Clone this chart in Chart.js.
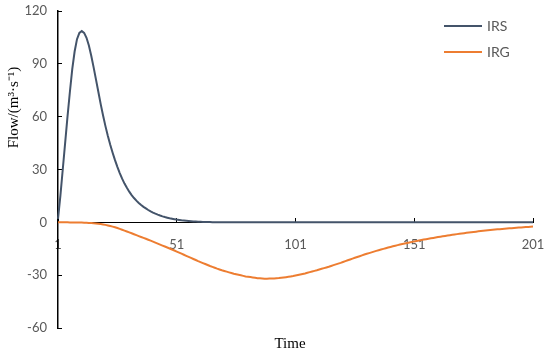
<!DOCTYPE html>
<html><head><meta charset="utf-8">
<script src="https://cdn.jsdelivr.net/npm/chart.js@4"></script>
<style>html,body{margin:0;padding:0;background:#fff}#wrap{width:550px;height:354px;position:relative}</style>
</head><body><div id="wrap"><canvas id="c"></canvas></div>
<script>
// ---- data ----
const categories = Array.from({length: 201}, (_, i) => String(i + 1));
const xTickLabels = ['1', '51', '101', '151', '201'];
const seriesNames = ['IRS', 'IRG'];
const xTitle = 'Time';
const yTitle = 'Flow/(m\u00B3\u00B7s\u207B\u00B9)';

const irs = [
  2,15,30,45,60,74,87,97,104,107.6,
  108.6,107.6,104.8,100.4,94.6,88,81,74,67,60.5,
  54.5,49,44,39.5,35.3,31.5,28,24.8,22,19.6,
  17.4,15.5,13.8,12.3,11,9.8,8.8,7.9,7,6.2,
  5.5,4.9,4.35,3.85,3.4,3,2.65,2.33,2.05,1.8,
  1.55,1.35,1.15,1,0.85,0.72,0.61,0.51,0.43,0.36,
  0.3,0.25,0.2,0.16,0.13,0.1,0.08,0.06,0.05,0.04,
  0.03,0.02,0.02,0.01,0.01,
  0,0,0,0,0,0,0,0,0,0,0,0,0,0,0,0,0,0,0,0,0,
  0,0,0,0,0,0,0,0,0,0,0,0,0,0,0,0,0,0,0,0,0,
  0,0,0,0,0,0,0,0,0,0,0,0,0,0,0,0,0,0,0,0,0,
  0,0,0,0,0,0,0,0,0,0,0,0,0,0,0,0,0,0,0,0,0,
  0,0,0,0,0,0,0,0,0,0,0,0,0,0,0,0,0,0,0,0,0,
  0,0,0,0,0,0,0,0,0,0,0,0,0,0,0,0,0,0,0,0,0
];

const irg = [
  0,0,0,-0.01,-0.02,-0.03,-0.05,-0.06,-0.08,-0.1,
  -0.14,-0.19,-0.25,-0.32,-0.4,-0.52,-0.66,-0.82,-1,-1.2,
  -1.45,-1.75,-2.08,-2.43,-2.8,-3.25,-3.72,-4.2,-4.7,-5.2,
  -5.7,-6.2,-6.75,-7.28,-7.8,-8.3,-8.82,-9.35,-9.88,-10.4,
  -10.95,-11.5,-12.05,-12.62,-13.2,-13.75,-14.3,-14.85,-15.42,-16,
  -16.6,-17.2,-17.8,-18.4,-19,-19.6,-20.2,-20.8,-21.4,-22,
  -22.56,-23.12,-23.68,-24.24,-24.8,-25.3,-25.8,-26.3,-26.75,-27.2,
  -27.6,-28,-28.4,-28.8,-29.2,-29.5,-29.8,-30.1,-30.4,-30.7,
  -30.9,-31.1,-31.3,-31.5,-31.7,-31.8,-31.9,-32,-32,-31.95,
  -31.9,-31.85,-31.75,-31.65,-31.5,-31.32,-31.14,-30.94,-30.72,-30.5,
  -30.22,-29.94,-29.64,-29.32,-29,-28.64,-28.28,-27.92,-27.56,-27.2,
  -26.8,-26.4,-26,-25.6,-25.2,-24.76,-24.32,-23.88,-23.44,-23,
  -22.52,-22.04,-21.56,-21.08,-20.6,-20.14,-19.68,-19.22,-18.76,-18.3,
  -17.88,-17.46,-17.04,-16.62,-16.2,-15.82,-15.44,-15.06,-14.68,-14.3,
  -13.96,-13.62,-13.28,-12.94,-12.6,-12.3,-12,-11.7,-11.4,-11.1,
  -10.84,-10.58,-10.32,-10.06,-9.8,-9.56,-9.32,-9.08,-8.84,-8.6,
  -8.38,-8.16,-7.94,-7.72,-7.5,-7.3,-7.1,-6.9,-6.7,-6.5,
  -6.32,-6.14,-5.96,-5.78,-5.6,-5.44,-5.28,-5.12,-4.96,-4.8,
  -4.66,-4.52,-4.38,-4.24,-4.1,-3.98,-3.86,-3.74,-3.62,-3.5,
  -3.4,-3.3,-3.2,-3.1,-3,-2.9,-2.8,-2.7,-2.6,-2.5,
  -2.4
];

const colors = ['#44546A', '#ED7D31'];
const gray = '#595959';

const annotPlugin = {
  id: 'annot',
  afterDraw(chart) {
    const ctx = chart.ctx;
    ctx.save();
    // legend
    chart.data.datasets.forEach((ds, i) => {
      const y = 26 + i * 26;
      ctx.strokeStyle = ds.borderColor;
      ctx.lineWidth = 2;
      ctx.beginPath(); ctx.moveTo(444, y); ctx.lineTo(482, y); ctx.stroke();
      ctx.fillStyle = gray;
      ctx.font = '14px Lato';
      ctx.textAlign = 'left';
      ctx.textBaseline = 'middle';
      ctx.fillText(ds.label, 487, y + 0.5);
    });
    // axis titles
    ctx.fillStyle = '#000';
    ctx.font = '15px "Liberation Serif"';
    ctx.textAlign = 'center';
    ctx.textBaseline = 'middle';
    ctx.fillText(xTitle, 290, 344);
    ctx.translate(14, 107.5);
    ctx.rotate(-Math.PI / 2);
    ctx.fillText(yTitle, 0, 0);
    ctx.restore();
  }
};

new Chart(document.getElementById('c'), {
  type: 'line',
  data: {
    labels: categories,
    datasets: [
      {label: seriesNames[0], data: irs, borderColor: colors[0], borderWidth: 2, pointRadius: 0, fill: false, order: 2},
      {label: seriesNames[1], data: irg, borderColor: colors[1], borderWidth: 2, pointRadius: 0, fill: false, order: 1}
    ]
  },
  options: {
    responsive: true,
    maintainAspectRatio: false,
    animation: false,
    devicePixelRatio: 1,
    layout: {padding: {left: 0, top: 11, right: 17, bottom: 26}},
    plugins: {legend: {display: false}, tooltip: {enabled: false}},
    scales: {
      x: {
        type: 'category',
        position: {y: 0},
        border: {display: true, color: '#000', width: 1},
        grid: {
          drawOnChartArea: false, drawTicks: true, tickLength: -5, tickWidth: 1,
          tickColor: (c) => xTickLabels.includes(categories[c.index]) ? '#000' : 'rgba(0,0,0,0)'
        },
        ticks: {
          autoSkip: false, maxRotation: 0, color: gray, padding: 20,
          font: {family: 'Lato', size: 13},
          callback: (v, i) => xTickLabels.includes(categories[i]) ? categories[i] : ''
        },
        afterFit: (s) => { s.paddingLeft = 0; s.paddingRight = 0; }
      },
      y: {
        type: 'linear',
        position: 'left',
        min: -60, max: 120,
        border: {display: true, color: '#000', width: 1.5},
        grid: {drawOnChartArea: false, drawTicks: true, tickLength: -4, tickWidth: 1, tickColor: '#000'},
        ticks: {stepSize: 30, color: gray, padding: 15, font: {family: 'Lato', size: 13}},
        afterFit: (s) => { s.width = 58; s.paddingTop = 0; s.paddingBottom = 0; }
      }
    }
  },
  plugins: [annotPlugin]
});
</script>
</body></html>
